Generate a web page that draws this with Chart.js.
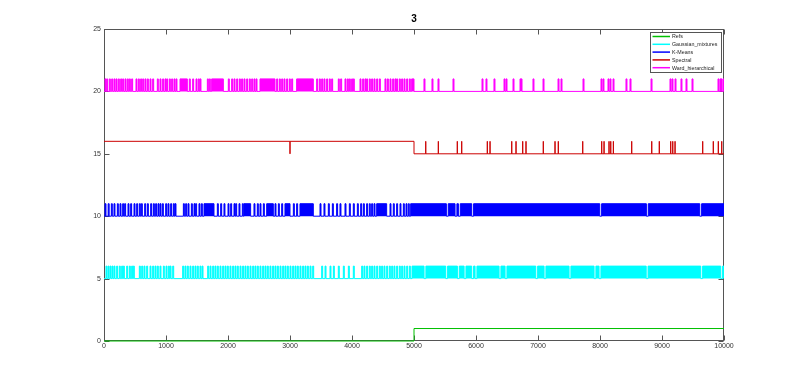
<!DOCTYPE html>
<html>
<head>
<meta charset="utf-8">
<script src="https://cdn.jsdelivr.net/npm/chart.js@4.4.1/dist/chart.umd.min.js"></script>
<style>
html,body{margin:0;padding:0;background:#fff;}
#wrap{width:800px;height:383px;}
</style>
</head>
<body>
<div id="wrap"><canvas id="c" width="800" height="383"></canvas></div>
<script>
// ---------------- data ----------------
const chartTitle = '3';
const seriesNames = ['Refs', 'Gaussian_mixtures', 'K-Means', 'Spectral', 'Ward_hierarchical'];
const seriesColors = ['#00c000', '#00ffff', '#0000ff', '#cc0000', '#ff00ff'];
const lowLevels = [0, 5, 10, 15, 20];
const xMin = 0, xMax = 10000;
const xTickLabels = ['0','1000','2000','3000','4000','5000','6000','7000','8000','9000','10000'];
const yTickLabels = ['0','5','10','15','20','25'];

// Refs: class 0 then class 1
const refsSpikes = [];
const refsBlocks = [[5000, 10000]];

// Gaussian_mixtures (cyan)
const gmmSpikes = [32, 65, 97, 129, 161, 204, 247, 285, 312, 366, 409, 446, 473, 570, 608, 645, 688, 742, 785, 823,
  860, 903, 957, 1000, 1038, 1065, 1108, 1269, 1306, 1344, 1387, 1430, 1468, 1505, 1548, 1581, 1672, 1710, 1753,
  1790, 1828, 1871, 1914, 1952, 1989, 2032, 2075, 2113, 2150, 2194, 2236, 2274, 2312, 2355, 2398, 2435, 2473,
  2516, 2559, 2597, 2634, 2677, 2720, 2758, 2796, 2839, 2882, 2919, 2957, 3000, 3043, 3081, 3118, 3161, 3204,
  3242, 3280, 3323, 3366, 3511, 3565, 3645, 3699, 3779, 3860, 3941, 4021, 4156, 4193, 4236, 4279, 4317, 4355,
  4398, 4441, 4478, 4516, 4559, 4602, 4640, 4677, 4720, 4763, 4801, 4839, 4882, 4925];
const gmmBlocks = [[4968, 5162], [5192, 5512], [5542, 5700], [5730, 5808], [5838, 5931], [5961, 5985], [6015, 6372],
  [6402, 6469], [6499, 6964], [6994, 7098], [7128, 7501], [7531, 7904], [7934, 7985], [8015, 8745], [8775, 9625],
  [9655, 9948], [9978, 10000]];

// K-Means (blue)
const kmSpikes = [16, 67, 118, 161, 215, 258, 301, 333, 387, 430, 484, 527, 570, 602, 656, 699, 753, 796, 833, 871,
  903, 941, 995, 1032, 1075, 1118, 1145, 1280, 1317, 1355, 1409, 1452, 1478, 1532, 1570, 1828, 1882, 1935, 2000,
  2043, 2097, 2124, 2177, 2231, 2419, 2473, 2516, 2570, 2758, 2812, 2866, 3054, 3107, 3484, 3548, 3618, 3683,
  3752, 3806, 3887, 3957, 4021, 4086, 4140, 4183, 4236, 4279, 4317, 4355, 4613, 4666, 4720, 4774, 4828, 4871, 4908];
const kmBlocks = [[1613, 1774], [2258, 2365], [2624, 2731], [2919, 3000], [3161, 3376], [4398, 4559],
  [4946, 5522], [5552, 5662], [5692, 5716], [5746, 5931], [5961, 7996], [8026, 8748], [8778, 9609], [9639, 10000]];

// Spectral (red)
const specSpikes = [5189, 5392, 5698, 5769, 6182, 6226, 6576, 6645, 6753, 6806, 7085, 7274, 7327, 7721, 8027, 8065,
  8145, 8173, 8215, 8511, 8834, 8956, 9140, 9173, 9210, 9656, 9827, 9908, 9963];
const specBlocks = [[0, 2999], [3001, 5000]];

// Ward_hierarchical (magenta)
const wardSpikes = [16, 43, 86, 124, 161, 194, 231, 269, 301, 339, 376, 409, 446, 516, 554, 591, 624, 661, 699, 742,
  785, 860, 903, 946, 984, 1011, 1054, 1091, 1129, 1161, 1376, 1430, 1484, 1521, 1548, 1667, 1699, 2005, 2059, 2097,
  2140, 2183, 2220, 2258, 2301, 2344, 2382, 2419, 2452, 2785, 2828, 2866, 2903, 2946, 2989, 3027, 3430, 3473, 3511,
  3548, 3591, 3634, 3672, 3779, 3817, 3887, 3925, 3957, 3994, 4021, 4129, 4172, 4209, 4236, 4279, 4317, 4355, 4398,
  4441, 4532, 4570, 4613, 4656, 4693, 4720, 4763, 4801, 4839, 4882, 4925, 4962,
  5161, 5290, 5387, 5629, 6097, 6161, 6290, 6452, 6484, 6597, 6710, 6726, 6919, 7081, 7323, 7371, 7726, 8016, 8048,
  8129, 8161, 8210, 8419, 8484, 8823, 9129, 9161, 9210, 9306, 9387, 9484, 9903, 9935, 9952, 9984];
const wardBlocks = [[1226, 1344], [1736, 1925], [2516, 2758], [3107, 3376], [4975, 5000]];

const seriesSpikes = [refsSpikes, gmmSpikes, kmSpikes, specSpikes, wardSpikes];
const seriesBlocks = [refsBlocks, gmmBlocks, kmBlocks, specBlocks, wardBlocks];
const seriesFilled = [false, true, true, false, true];
const spikeRun = [1, 16, 16, 1, 16];   // samples spent at the high label for each short run

// ---------------- build step data ----------------
function buildSteps(low, spikes, blocks, run) {
  const iv = spikes.map(s => [s, s + run]).concat(blocks.map(b => [b[0], b[1]])).sort((a, b) => a[0] - b[0]);
  const merged = [];
  for (const [a, b] of iv) {
    const last = merged[merged.length - 1];
    if (last && a <= last[1]) last[1] = Math.max(last[1], b);
    else merged.push([a, b]);
  }
  const hi = low + 1;
  const pts = [];
  if (!merged.length || merged[0][0] > xMin) pts.push({x: xMin, y: low});
  for (const [a, b] of merged) {
    pts.push({x: a, y: hi});
    if (b < xMax) pts.push({x: b, y: low});
    else pts.push({x: xMax, y: hi});
  }
  if (pts[pts.length - 1].x < xMax) pts.push({x: xMax, y: pts[pts.length - 1].y});
  return pts;
}

const FONT = "'Liberation Sans', Arial, Helvetica, sans-serif";

const datasets = seriesNames.map((name, i) => ({
  label: name,
  data: buildSteps(lowLevels[i], seriesSpikes[i], seriesBlocks[i], spikeRun[i]),
  borderColor: seriesColors[i],
  backgroundColor: seriesColors[i],
  borderWidth: 1,
  stepped: true,
  pointRadius: 0,
  fill: seriesFilled[i] ? {value: lowLevels[i]} : false,
  clip: 3
}));

// ---------------- plugins ----------------
const boxPlugin = {
  id: 'matlabBox',
  beforeDatasetsDraw(chart) {
    const {ctx, chartArea: a, scales: {x, y}} = chart;
    ctx.save();
    ctx.strokeStyle = '#555';
    ctx.lineWidth = 1;
    const L = Math.round(a.left) + 0.5, R = Math.round(a.right) - 0.5;
    const T = Math.round(a.top) + 0.5, B = Math.round(a.bottom) - 0.5;
    ctx.strokeRect(L, T, R - L, B - T);
    ctx.beginPath();
    x.ticks.forEach(t => {
      const px = Math.round(x.getPixelForValue(t.value)) + 0.5;
      ctx.moveTo(px, B); ctx.lineTo(px, B - 5);
      ctx.moveTo(px, T); ctx.lineTo(px, T + 5);
    });
    y.ticks.forEach(t => {
      const py = Math.round(y.getPixelForValue(t.value)) + 0.5;
      ctx.moveTo(L, py); ctx.lineTo(L + 5, py);
      ctx.moveTo(R, py); ctx.lineTo(R - 5, py);
    });
    ctx.stroke();
    ctx.restore();
  }
};

const legendPlugin = {
  id: 'matlabLegend',
  afterDraw(chart) {
    const {ctx, chartArea: a} = chart;
    const w = 71, h = 40;
    const x0 = Math.round(a.right) - 3 - w + 0.5, y0 = Math.round(a.top) + 3 + 0.5;
    ctx.save();
    ctx.fillStyle = '#fff';
    ctx.fillRect(x0, y0, w, h);
    ctx.strokeStyle = '#555';
    ctx.lineWidth = 1;
    ctx.strokeRect(x0, y0, w, h);
    ctx.font = '5.3px ' + FONT;
    ctx.textBaseline = 'middle';
    chart.data.datasets.forEach((ds, i) => {
      const yy = y0 + 4 + i * 7.8;
      ctx.strokeStyle = ds.borderColor;
      ctx.lineWidth = 1.5;
      ctx.beginPath();
      ctx.moveTo(x0 + 2, yy); ctx.lineTo(x0 + 19.5, yy);
      ctx.stroke();
      ctx.fillStyle = '#222';
      ctx.fillText(ds.label, x0 + 21.5, yy + 0.5);
    });
    ctx.restore();
  }
};

new Chart(document.getElementById('c'), {
  type: 'line',
  data: {datasets},
  options: {
    responsive: false,
    animation: false,
    devicePixelRatio: 1,
    normalized: true,
    layout: {padding: {left: 0, right: 76, top: 0, bottom: 0}},
    plugins: {
      legend: {display: false},
      tooltip: {enabled: false},
      title: {
        display: true, text: chartTitle, fullSize: false, color: '#000',
        font: {family: FONT, size: 10, weight: 'bold', lineHeight: 1.2},
        padding: {top: 13, bottom: 4}
      }
    },
    scales: {
      x: {
        type: 'linear', min: xMin, max: xMax,
        ticks: {stepSize: 1000, autoSkip: false, maxRotation: 0, color: '#333', padding: 1,
          font: {family: FONT, size: 7}, callback: (v, i) => xTickLabels[i]},
        grid: {display: false, drawTicks: false},
        border: {display: false},
        afterFit(s) { s.height = 42; }
      },
      y: {
        type: 'linear', min: 0, max: 25,
        ticks: {stepSize: 5, color: '#333', padding: 3,
          font: {family: FONT, size: 7}, callback: (v, i) => yTickLabels[i]},
        grid: {display: false, drawTicks: false},
        border: {display: false},
        afterFit(s) { s.width = 104; }
      }
    }
  },
  plugins: [boxPlugin, legendPlugin]
});
</script>
</body>
</html>
